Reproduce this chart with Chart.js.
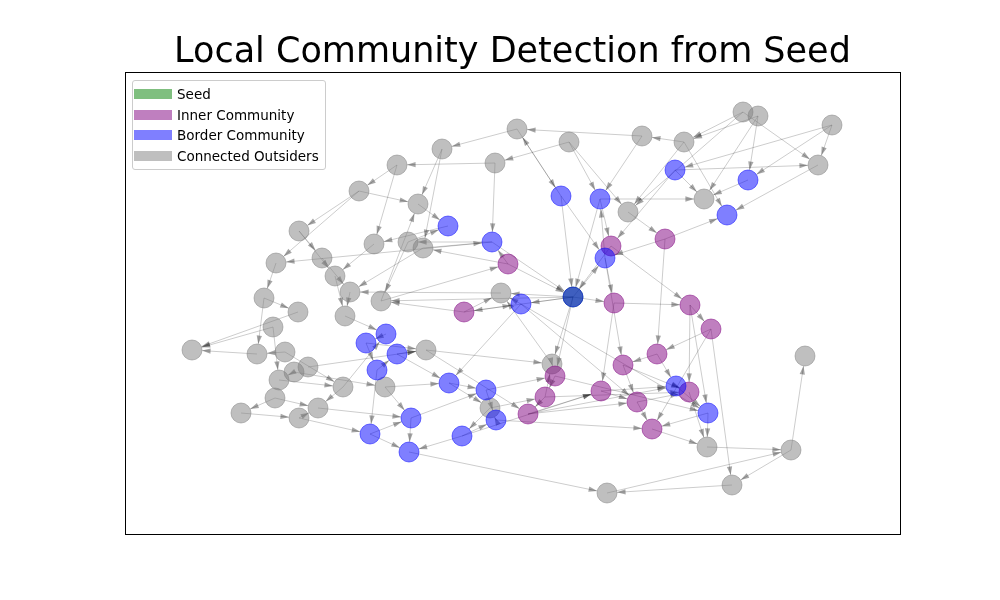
<!DOCTYPE html>
<html>
<head>
<meta charset="utf-8">
<script src="https://cdn.jsdelivr.net/npm/chart.js@4"></script>
<style>
  body { margin: 0; background: #fff; font-family: "DejaVu Sans", sans-serif; }
  #wrap { position: relative; width: 1000px; height: 600px; }
  #title { position: absolute; left: 0; width: 1025px; top: 30px; text-align: center; font-size: 35px; color: #000; }
  #legend { position: absolute; left: 132px; top: 80px; background: rgba(255,255,255,0.85);
            border: 1px solid #ccc; border-radius: 3px; padding: 3px 6px 3px 0; font-size: 13.5px; }
  .li { display: flex; align-items: center; height: 20.5px; }
  .sw { width: 38px; height: 10px; margin: 0 5px 0 1px; }
</style>
</head>
<body>
<div id="wrap">
  <canvas id="c" width="1000" height="600"></canvas>
  <div id="title">Local Community Detection from Seed</div>
  <div id="legend"></div>
</div>
<script>
/* node positions, group: 0 seed, 1 inner, 2 border, 3 outsider */
const NODE_X = [743,758,832,818,684,642,569,517,495,442,397,359,418,628,704,299,276,322,374,408,423,335,350,264,298,345,381,501,273,192,257,285,294,308,279,275,343,385,426,552,241,318,299,490,805,707,791,732,607,
  675,748,727,561,600,448,492,605,573,521,386,366,397,377,449,486,676,708,411,496,370,462,409,
  665,611,508,614,690,464,711,657,623,555,601,689,545,637,528,652,
  573];
const NODE_Y = [112,116,125,165,142,136,142,129,163,149,165,191,204,212,199,231,263,258,244,242,248,276,292,298,312,316,301,293,327,350,354,352,372,367,380,398,387,387,350,364,413,408,418,408,356,447,450,485,493,
  170,180,215,196,199,226,242,258,297,304,334,343,354,370,383,390,386,413,418,420,434,436,452,
  239,246,264,303,305,312,329,354,365,376,391,392,397,402,414,429,
  297];
const NODE_GROUP = [].concat(Array(49).fill(3), Array(23).fill(2), Array(16).fill(1), [0]);

const EDGES = [[0,4],[1,14],[0,3],[2,3],[2,50],[3,51],[1,50],[4,51],[49,14],[4,5],[49,3],[0,13],[50,14],[2,49],[1,4],
  [5,7],[6,8],[7,9],[8,10],[6,53],[7,52],[9,12],[10,11],[11,12],[11,15],[12,54],[8,55],[5,53],[6,13],[52,56],[53,73],[13,72],[4,13],[49,73],
  [55,19],[54,18],[55,88],[88,56],[56,75],[73,88],[72,79],[73,76],[88,75],[88,58],[58,27],[88,27],[74,88],[74,55],[88,77],[88,26],[75,76],[76,78],[78,79],[79,80],[75,82],[88,81],[56,80],[72,56],[53,88],[52,88],[55,16],[19,26],[18,21],[20,22],[15,17],[16,23],[17,22],[21,25],[22,25],[23,24],[24,29],[28,29],[30,29],[31,36],[28,34],[25,59],[59,60],[60,62],[61,63],[62,69],[63,64],[64,68],[68,43],[43,70],[70,71],[67,71],[69,67],[42,69],[41,67],[40,42],[35,41],[34,36],[32,37],[33,38],[36,59],[37,63],[38,86],[39,81],[81,84],[84,86],[86,82],[82,85],[85,87],[87,45],[65,66],[66,45],[45,46],[46,47],[47,48],[48,46],[46,44],[83,45],[65,83],[79,65],[80,85],[76,66],[78,47],[82,65],[84,83],[86,65],[39,27],[77,58],[77,27],[58,63],
  [61,38],[26,12],[11,16],[10,18],[19,54],[20,55],[9,20],[15,21],[23,30],[31,30],[32,34],[35,40],[42,41],[69,71],[70,68],[64,81],[63,43],[68,87],[43,84],[71,48],[70,82],[67,64],[37,67],[36,41],[38,39],[62,61],[60,38],[26,74],[58,85],[53,14],[52,7],[56,53],[72,51],[76,83],[78,87],[80,83],[81,66],[84,39],[27,22],[74,20],[58,66],[86,85],[66,87],[85,83],[88,39],[77,26]];

const GROUP_LABELS = ['Seed', 'Inner Community', 'Border Community', 'Connected Outsiders'];
const GROUP_COLORS = ['rgba(0,128,0,0.5)', 'rgba(128,0,128,0.5)', 'rgba(0,0,255,0.5)', 'rgba(128,128,128,0.5)'];
const GROUP_ORDER  = [2, 3, 1, 4];

function groupPoints(g) {
  return NODE_X.map((x, i) => ({ x, y: NODE_Y[i], g: NODE_GROUP[i] }))
    .filter(p => p.g === g).map(p => ({ x: p.x, y: p.y }));
}

const edgePlugin = {
  id: 'edges',
  beforeDatasetsDraw(chart) {
    const { ctx, scales: { x, y } } = chart;
    const R = 10;
    ctx.save();
    EDGES.forEach(([a, b]) => {
      const x1 = x.getPixelForValue(NODE_X[a]), y1 = y.getPixelForValue(NODE_Y[a]);
      const x2 = x.getPixelForValue(NODE_X[b]), y2 = y.getPixelForValue(NODE_Y[b]);
      const ang = Math.atan2(y2 - y1, x2 - x1);
      const ex = x2 - R * Math.cos(ang), ey = y2 - R * Math.sin(ang);
      ctx.strokeStyle = 'rgba(0,0,0,0.2)';
      ctx.lineWidth = 1;
      ctx.beginPath(); ctx.moveTo(x1, y1); ctx.lineTo(ex, ey); ctx.stroke();
      ctx.fillStyle = 'rgba(0,0,0,0.35)';
      ctx.beginPath();
      ctx.moveTo(ex, ey);
      ctx.lineTo(ex - 9 * Math.cos(ang - 0.3), ey - 9 * Math.sin(ang - 0.3));
      ctx.lineTo(ex - 9 * Math.cos(ang + 0.3), ey - 9 * Math.sin(ang + 0.3));
      ctx.closePath(); ctx.fill();
    });
    ctx.restore();
  },
  afterDraw(chart) {
    const { ctx, chartArea: a } = chart;
    ctx.save();
    ctx.strokeStyle = '#000'; ctx.lineWidth = 1;
    ctx.strokeRect(a.left + 0.5, a.top + 0.5, a.right - a.left, a.bottom - a.top);
    ctx.restore();
  }
};

new Chart(document.getElementById('c'), {
  type: 'scatter',
  data: {
    datasets: GROUP_LABELS.map((label, g) => ({
      label,
      data: groupPoints(g),
      backgroundColor: GROUP_COLORS[g],
      borderColor: GROUP_COLORS[g],
      borderWidth: 1,
      pointRadius: 10,
      order: GROUP_ORDER[g],
    })),
  },
  options: {
    responsive: false,
    animation: false,
    layout: { padding: { left: 125, right: 100, top: 72, bottom: 66 } },
    plugins: { legend: { display: false }, tooltip: { enabled: false } },
    scales: {
      x: { display: false, min: 125, max: 900 },
      y: { display: false, min: 72, max: 534, reverse: true },
    },
  },
  plugins: [edgePlugin],
});

const leg = document.getElementById('legend');
GROUP_LABELS.forEach((label, g) => {
  const el = document.createElement('div');
  el.className = 'li';
  el.innerHTML = `<div class="sw" style="background:${GROUP_COLORS[g]}"></div><span>${label}</span>`;
  leg.appendChild(el);
});
</script>
</body>
</html>
